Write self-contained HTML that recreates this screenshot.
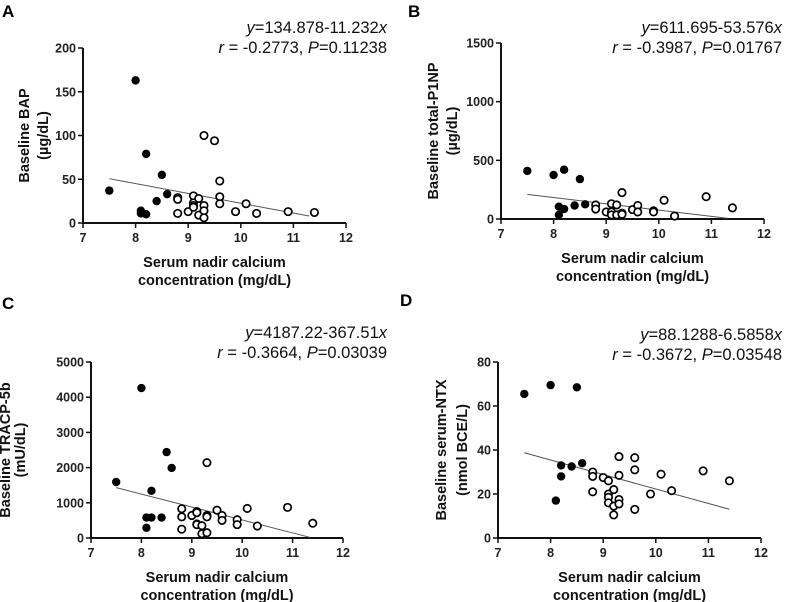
<!DOCTYPE html>
<html><head><meta charset="utf-8"><style>
body{margin:0;background:#fff;}
svg{display:block;font-family:"Liberation Sans",Arial,sans-serif;}
.tick{font-size:12.5px;font-weight:bold;fill:#222;}
.ttl{font-size:14.5px;font-weight:bold;fill:#111;}
.eq{font-size:16.5px;fill:#111;}
.lab{font-size:17px;font-weight:bold;fill:#000;}
</style></head><body>
<svg id="chart" width="790" height="602"></svg>
<script>
// Panel A: BAP
const aFilledX=[7.5,8.0,8.1,8.1,8.2,8.2,8.4,8.5,8.6];
const aFilledY=[37,163,14,11,10,79,25,55,33];
const aOpenX=[8.8,8.8,8.8,9.0,9.1,9.1,9.1,9.1,9.2,9.2,9.3,9.3,9.3,9.3,9.5,9.6,9.6,9.6,9.9,10.1,10.3,10.9,11.4];
const aOpenY=[29,27,11,13,31,23,20,18,28,9,100,20,14,6,94,48,30,22,13,22,11,13,12];
const aTicks=[0,50,100,150,200];
// Panel B: total-P1NP
const bFilledX=[7.5,8.0,8.2,8.5,8.1,8.1,8.2,8.4,8.6];
const bFilledY=[410,375,420,340,105,35,85,115,125];
const bOpenX=[8.8,8.8,9.0,9.1,9.1,9.1,9.2,9.2,9.3,9.3,9.3,9.5,9.6,9.6,9.9,9.9,10.1,10.3,10.9,11.4];
const bOpenY=[120,85,60,130,60,35,120,35,225,50,40,80,115,60,70,60,160,25,190,95];
const bTicks=[0,500,1000,1500];
// Panel C: TRACP-5b
const cFilledX=[7.5,8.0,8.1,8.1,8.2,8.2,8.4,8.5,8.6];
const cFilledY=[1590,4260,580,290,580,1340,580,2440,1990];
const cOpenX=[8.8,8.8,8.8,9.0,9.1,9.1,9.1,9.1,9.2,9.2,9.3,9.3,9.3,9.3,9.5,9.6,9.6,9.9,9.9,10.1,10.3,10.9,11.4];
const cOpenY=[830,600,250,640,750,720,400,380,350,120,2140,640,600,150,790,640,500,520,380,840,340,870,420];
const cTicks=[0,1000,2000,3000,4000,5000];
// Panel D: serum-NTX
const dFilledX=[7.5,8.0,8.5,8.1,8.2,8.2,8.4,8.6];
const dFilledY=[65.5,69.5,68.5,17,33,28,32.5,34];
const dOpenX=[8.8,8.8,8.8,9.0,9.1,9.1,9.1,9.1,9.2,9.2,9.2,9.3,9.3,9.3,9.3,9.6,9.6,9.6,9.9,10.1,10.3,10.9,11.4];
const dOpenY=[30,28,21,27.5,26,20,18.5,16,22,14.5,10.5,37,28.5,17.5,15.5,36.5,31,13,20,29,21.5,30.5,26];
const dTicks=[0,20,40,60,80];
const xTicks=[7,8,9,10,11,12];
// fit: intercept, slope, x range
const aFit=[134.878,-11.232,7.5,11.3];
const bFit=[611.695,-53.576,7.5,11.3];
const cFit=[4187.22,-367.51,7.5,11.35];
const dFit=[88.1288,-6.5858,7.5,11.4];

const NS="http://www.w3.org/2000/svg";
const svg=document.getElementById('chart');
function mk(tag,attrs,parent,text){const e=document.createElementNS(NS,tag);for(const k in attrs)e.setAttribute(k,attrs[k]);if(text!==undefined)e.textContent=text;(parent||svg).appendChild(e);return e;}

function panel(p){
  const g=mk('g',{});
  
  
  const sx=v=>p.x0+(v-7)/5*(p.x1-p.x0);
  const sy=v=>p.y0-(v/p.ymax)*(p.y0-p.y1);
  const lab=mk('text',{x:p.lx,y:p.ly,class:'lab'},g,p.id);
  
  
  const ya=mk('line',{x1:p.x0,y1:p.y0,x2:p.x0,y2:p.y1,stroke:'#111','stroke-width':2},g);
  
  
  const xa=mk('line',{x1:p.x0-1,y1:p.y0,x2:p.x1,y2:p.y0,stroke:'#111','stroke-width':2},g);
  
  
  p.ticks.forEach(t=>{
    mk('line',{x1:p.x0-5,y1:sy(t),x2:p.x0,y2:sy(t),stroke:'#111','stroke-width':1.5},g);
    const tl=mk('text',{x:p.x0-7,y:sy(t)+4.5,class:'tick','text-anchor':'end'},g,t);
    
    
  });
  xTicks.forEach(t=>{
    mk('line',{x1:sx(t),y1:p.y0,x2:sx(t),y2:p.y0+5,stroke:'#111','stroke-width':1.5},g);
    const tl=mk('text',{x:sx(t),y:p.y0+19,class:'tick','text-anchor':'middle'},g,t);
    
    
  });
  const xm=(p.x0+p.x1)/2;
  const xt=mk('text',{x:xm,y:p.y0+44,class:'ttl','text-anchor':'middle'},g);
  
  
  mk('tspan',{x:xm},xt,'Serum nadir calcium');
  mk('tspan',{x:xm,dy:18},xt,'concentration (mg/dL)');
  const ym=(p.y0+p.y1)/2;
  const yt1=mk('text',{x:0,y:0,class:'ttl','text-anchor':'middle',transform:`translate(${p.yt[0]+5},${ym}) rotate(-90)`},g,p.ytitle[0]);
  
  
  const yt2=mk('text',{x:0,y:0,class:'ttl','text-anchor':'middle',transform:`translate(${p.yt[1]+5},${ym}) rotate(-90)`},g,p.ytitle[1]);
  
  
  const f=p.fit;
  const fl=mk('line',{x1:sx(f[2]),y1:sy(f[0]+f[1]*f[2]),x2:sx(f[3]),y2:sy(f[0]+f[1]*f[3]),stroke:'#555','stroke-width':1},g);
  
  
  p.fx.forEach((v,i)=>{
    const c=mk('circle',{cx:sx(v),cy:sy(p.fy[i]),r:4.2,fill:'#000'},g);
    
    
  });
  p.ox.forEach((v,i)=>{
    const c=mk('circle',{cx:sx(v),cy:sy(p.oy[i]),r:3.7,fill:'#fff',stroke:'#000','stroke-width':1.7},g);
    
    
  });
  const e1=mk('text',{x:p.ex,y:p.ey,class:'eq','text-anchor':'end'},g);
  
  
  mk('tspan',{'font-style':'italic'},e1,'y');
  mk('tspan',{},e1,'='+p.eq);
  mk('tspan',{'font-style':'italic'},e1,'x');
  const e2=mk('text',{x:p.ex,y:p.ey+20,class:'eq','text-anchor':'end'},g);
  
  
  mk('tspan',{'font-style':'italic'},e2,'r');
  mk('tspan',{},e2,' = '+p.r+', ');
  mk('tspan',{'font-style':'italic'},e2,'P');
  mk('tspan',{},e2,'='+p.P);
}
panel({id:'A',lx:2,ly:17,x0:83,x1:346,y0:223,y1:48,ymax:200,ticks:aTicks,fx:aFilledX,fy:aFilledY,ox:aOpenX,oy:aOpenY,fit:aFit,
  ytitle:['Baseline BAP','(µg/dL)'],yt:[24,43],ex:387,ey:33,eq:'134.878-11.232',r:'-0.2773',P:'0.11238'});
panel({id:'B',lx:408,ly:17,x0:501,x1:764,y0:219,y1:43,ymax:1500,ticks:bTicks,fx:bFilledX,fy:bFilledY,ox:bOpenX,oy:bOpenY,fit:bFit,
  ytitle:['Baseline total-P1NP','(µg/dL)'],yt:[433,452],ex:782,ey:33,eq:'611.695-53.576',r:'-0.3987',P:'0.01767'});
panel({id:'C',lx:2,ly:309,x0:91,x1:343,y0:538,y1:362,ymax:5000,ticks:cTicks,fx:cFilledX,fy:cFilledY,ox:cOpenX,oy:cOpenY,fit:cFit,
  ytitle:['Baseline TRACP-5b','(mU/dL)'],yt:[5,20],ex:387,ey:338,eq:'4187.22-367.51',r:'-0.3664',P:'0.03039'});
panel({id:'D',lx:400,ly:306,x0:498,x1:761,y0:538,y1:362,ymax:80,ticks:dTicks,fx:dFilledX,fy:dFilledY,ox:dOpenX,oy:dOpenY,fit:dFit,
  ytitle:['Baseline serum-NTX','(nmol BCE/L)'],yt:[441,462],ex:782,ey:340,eq:'88.1288-6.5858',r:'-0.3672',P:'0.03548'});
</script>
</body></html>
